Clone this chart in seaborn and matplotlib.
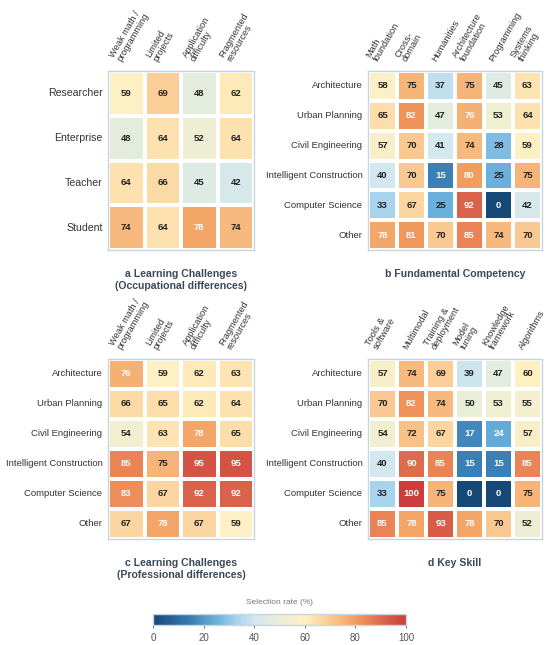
import numpy as np
import pandas as pd
import seaborn as sns
import matplotlib.pyplot as plt
from matplotlib.colors import LinearSegmentedColormap
from matplotlib.transforms import ScaledTranslation

sns.set_style("white")
plt.rcParams['font.family'] = ['Liberation Sans', 'DejaVu Sans']

# Data
occupations = ['Researcher', 'Enterprise', 'Teacher', 'Student']
majors = ['Architecture', 'Urban Planning', 'Civil Engineering',
          'Intelligent Construction', 'Computer Science', 'Other']

challenge_cols = ['Weak math /\nprogramming', 'Limited\nprojects',
                  'Application\ndifficulty', 'Fragmented\nresources']
competency_cols = ['Math\nfoundation', 'Cross-\ndomain', 'Humanities',
                   'Architecture\nfoundation', 'Programming', 'Systems\nthinking']
skill_cols = ['Tools &\nsoftware', 'Multimodal', 'Training &\ndeployment',
              'Model\ntuning', 'Knowledge\nframework', 'Algorithms']

challenges_occ = [[59, 69, 48, 62],
                  [48, 64, 52, 64],
                  [64, 66, 45, 42],
                  [74, 64, 78, 74]]

competency = [[58, 75, 37, 75, 45, 63],
              [65, 82, 47, 76, 53, 64],
              [57, 70, 41, 74, 28, 59],
              [40, 70, 15, 80, 25, 75],
              [33, 67, 25, 92, 0, 42],
              [78, 81, 70, 85, 74, 70]]

challenges_major = [[76, 59, 62, 63],
                    [66, 65, 62, 64],
                    [54, 63, 78, 65],
                    [85, 75, 95, 95],
                    [83, 67, 92, 92],
                    [67, 78, 67, 59]]

key_skill = [[57, 74, 69, 39, 47, 60],
             [70, 82, 74, 50, 53, 55],
             [54, 72, 67, 17, 24, 57],
             [40, 90, 85, 15, 15, 85],
             [33, 100, 75, 0, 0, 75],
             [85, 78, 93, 78, 70, 52]]

cmap = LinearSegmentedColormap.from_list('sel', [
    (0.00, '#164878'), (0.15, '#3a7fb5'), (0.25, '#6ab0dc'), (0.33, '#a8d3ec'),
    (0.40, '#d3e7ef'), (0.50, '#e9eed9'), (0.60, '#fff0c2'), (0.67, '#fcd6a0'),
    (0.75, '#f6b57a'), (0.80, '#f29d5e'), (0.85, '#ea8456'), (0.92, '#d9634a'),
    (1.00, '#cc3d3d')])

W, H = 550, 645
fig = plt.figure(figsize=(W / 100, H / 100), dpi=100)


def box(x0, y0, x1, y1):
    return [x0 / W, 1 - y1 / H, (x1 - x0) / W, (y1 - y0) / H]


def panel(rect, data, rows, cols, title, ylab_size):
    ax = fig.add_axes(box(*rect))
    df = pd.DataFrame(data, index=rows, columns=cols)
    sns.heatmap(df, ax=ax, cmap=cmap, vmin=0, vmax=100, cbar=False,
                linewidths=1.5, linecolor='white', annot=False)
    for i in range(df.shape[0]):
        for j in range(df.shape[1]):
            v = df.iat[i, j]
            c = 'white' if (v < 25 or v > 75) else '#222222'
            ax.text(j + 0.5, i + 0.5, str(v), ha='center', va='center',
                    fontsize=6.8, fontweight='bold', color=c)
    # column labels above the map, rotated
    ax.set_xticks([])
    shift = ScaledTranslation(-3 / 100, 8 / 100, fig.dpi_scale_trans)
    for j, name in enumerate(cols):
        ax.text(j + 0.5, 0, name, transform=ax.transData + shift,
                rotation=60, ha='left', va='bottom', rotation_mode='anchor',
                fontsize=6.7, color='#333333', linespacing=0.95)
    ax.set_yticklabels(rows, rotation=0, fontsize=ylab_size, color='#333333')
    ax.tick_params(length=0, pad=4)
    ax.set_xlabel('')
    ax.set_ylabel('')
    for s in ax.spines.values():
        s.set_visible(True)
        s.set_color('#c9d5de')
        s.set_linewidth(1)
    cx = (rect[0] + rect[2]) / 2 / W
    ty = 1 - (rect[3] + 19) / H
    fig.text(cx, ty, title, ha='center', va='top', fontsize=7.6,
             fontweight='bold', color='#3b4a5a', linespacing=1.2)
    return ax


panel((108, 71, 254, 250), challenges_occ, occupations, challenge_cols,
      'a Learning Challenges\n(Occupational differences)', 7.6)
panel((368, 71, 542, 250), competency, majors, competency_cols,
      'b Fundamental Competency', 6.8)
panel((108, 359, 254, 539), challenges_major, majors, challenge_cols,
      'c Learning Challenges\n(Professional differences)', 6.8)
panel((368, 359, 542, 539), key_skill, majors, skill_cols,
      'd Key Skill', 6.8)

# Colorbar
cax = fig.add_axes(box(153, 614, 406, 625))
sm = plt.cm.ScalarMappable(cmap=cmap, norm=plt.Normalize(0, 100))
cb = fig.colorbar(sm, cax=cax, orientation='horizontal')
cb.set_ticks([0, 20, 40, 60, 80, 100])
cb.ax.tick_params(labelsize=7, colors='#555555', length=2, width=0.6)
cb.outline.set_edgecolor('#c9d5de')
cb.outline.set_linewidth(1)
fig.text((153 + 406) / 2 / W, 1 - 602 / H, 'Selection rate (%)', ha='center',
         va='center', fontsize=6, color='#777777')

fig.savefig('out.png', dpi=100, facecolor='white')
